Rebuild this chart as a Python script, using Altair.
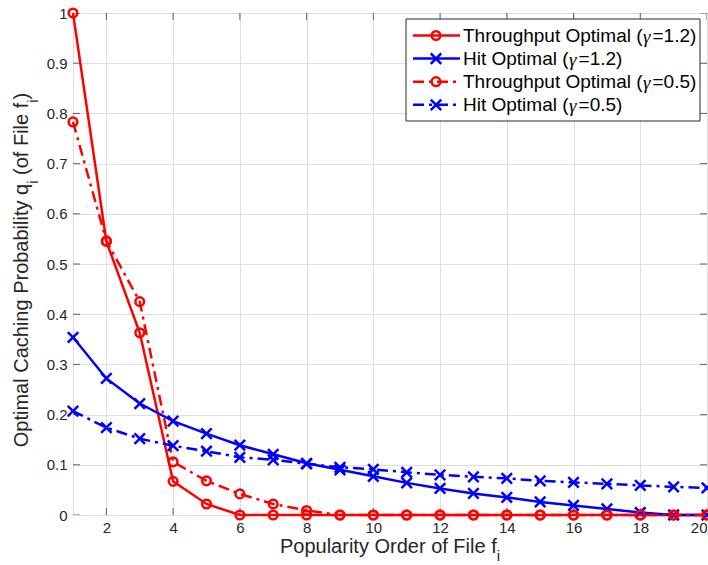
import altair as alt
import pandas as pd

# ---- data -------------------------------------------------------------
ranks = list(range(1, 21))
throughput_g12 = [1.000, 0.545, 0.363, 0.067, 0.022, 0, 0, 0, 0, 0,
                  0, 0, 0, 0, 0, 0, 0, 0, 0, 0]
hit_g12 = [0.354, 0.272, 0.222, 0.187, 0.162, 0.139, 0.121, 0.103, 0.090, 0.077,
           0.064, 0.053, 0.043, 0.035, 0.026, 0.019, 0.012, 0.005, 0, 0]
throughput_g05 = [0.783, 0.546, 0.425, 0.106, 0.068, 0.042, 0.022, 0.009, 0, 0,
                  0, 0, 0, 0, 0, 0, 0, 0, 0, 0]
hit_g05 = [0.207, 0.174, 0.152, 0.138, 0.127, 0.115, 0.110, 0.102, 0.095, 0.091,
           0.085, 0.080, 0.076, 0.073, 0.068, 0.065, 0.062, 0.059, 0.056, 0.054]

series_values = [throughput_g12, hit_g12, throughput_g05, hit_g05]
series_kind = ["Throughput Optimal", "Hit Optimal", "Throughput Optimal", "Hit Optimal"]
series_gamma = ["1.2", "1.2", "0.5", "0.5"]

x_ticks = [2, 4, 6, 8, 10, 12, 14, 16, 18, 20]
y_ticks = [0, 0.1, 0.2, 0.3, 0.4, 0.5, 0.6, 0.7, 0.8, 0.9, 1]

# ---- style --------------------------------------------------------------
W, H = 634, 502
FONT = "Liberation Sans"
INK = "#262626"
RED, BLUE = "#ff0000", "#0000ff"
DASHDOT = [11, 5, 3, 5]
X_PATH = "M-1,-1L1,1M1,-1L-1,1"

series_color = [RED, BLUE, RED, BLUE]
series_dash = [None, None, DASHDOT, DASHDOT]
series_shape = ["circle", X_PATH, "circle", X_PATH]
series_size = [75, 110, 75, 110]

# Arial/Liberation Sans advance widths (1/1000 em), for placing subscripts
ADV = {" ": 278, "P": 667, "o": 556, "p": 556, "u": 556, "l": 222, "a": 556,
       "r": 333, "i": 222, "t": 278, "y": 500, "O": 778, "d": 556, "e": 556,
       "f": 278, "F": 611, "m": 833, "C": 722, "c": 500, "h": 556, "n": 556,
       "g": 556, "b": 556, "q": 556, "(": 333, ")": 333, "T": 611, "H": 722,
       "=": 584, "1": 556, ".": 278, "2": 556, "5": 556, "0": 556}


def text_width(s, size):
    return sum(ADV.get(ch, 556) for ch in s) * size / 1000.0


one = pd.DataFrame({"k": [0]})

axis_style = dict(title=None, grid=True, ticks=False, domain=False,
                  labelFont=FONT, labelFontSize=15, labelColor=INK,
                  gridColor="#dfdfdf", gridWidth=1, gridOpacity=1)
X = alt.X("rank:Q", scale=alt.Scale(domain=[1, 20], nice=False, zero=False),
          axis=alt.Axis(values=x_ticks, labelPadding=5, **axis_style))
Y = alt.Y("value:Q", scale=alt.Scale(domain=[0, 1], nice=False),
          axis=alt.Axis(values=y_ticks, format="~g", labelPadding=6, **axis_style))

layers = []

# inward tick marks on all four sides of the box
xt = pd.DataFrame({"rank": x_ticks})
yt = pd.DataFrame({"value": y_ticks})
for ypix in (0, H):
    layers.append(alt.Chart(xt).mark_tick(orient="vertical", size=14, thickness=1,
                                          color=INK, clip=True)
                  .encode(x=X, y=alt.value(ypix)))
for xpix in (0, W):
    layers.append(alt.Chart(yt).mark_tick(orient="horizontal", size=14, thickness=1,
                                          color=INK, clip=True)
                  .encode(y=Y, x=alt.value(xpix)))

# curves with markers
for vals, color, dash, shape, size in zip(series_values, series_color, series_dash,
                                          series_shape, series_size):
    df = pd.DataFrame({"rank": ranks, "value": vals})
    line_kw = dict(color=color, strokeWidth=2.5)
    if dash:
        line_kw["strokeDash"] = dash
    layers.append(alt.Chart(df).mark_line(**line_kw).encode(x=X, y=Y))
    layers.append(alt.Chart(df).mark_point(shape=shape, filled=False, size=size,
                                           strokeWidth=2.5, color=color, opacity=1)
                  .encode(x=X, y=Y))

# legend box
LX0, LX1, LY0, LY1 = 333, 627, 6, 108
layers.append(alt.Chart(one).mark_rect(fill="white", stroke=INK, strokeWidth=1)
              .encode(x=alt.value(LX0), x2=alt.value(LX1),
                      y=alt.value(LY0), y2=alt.value(LY1)))

LEG_FS = 19
row_y = [22.5, 45.6, 68.7, 91.8]
for i in range(4):
    ry = row_y[i]
    rule_kw = dict(color=series_color[i], strokeWidth=2.5)
    if series_dash[i]:
        rule_kw["strokeDash"] = series_dash[i]
    layers.append(alt.Chart(one).mark_rule(**rule_kw)
                  .encode(x=alt.value(340), x2=alt.value(387), y=alt.value(ry)))
    layers.append(alt.Chart(one).mark_point(shape=series_shape[i], filled=False,
                                            size=series_size[i], strokeWidth=2.5,
                                            color=series_color[i], opacity=1)
                  .encode(x=alt.value(363), y=alt.value(ry)))
    prefix = series_kind[i] + " ("
    suffix = "=" + series_gamma[i] + ")"
    tx = 390
    layers.append(alt.Chart(pd.DataFrame({"t": [prefix]}))
                  .mark_text(font=FONT, fontSize=LEG_FS, color="black", align="left",
                             baseline="middle")
                  .encode(text="t:N", x=alt.value(tx), y=alt.value(ry)))
    gx = tx + text_width(prefix, LEG_FS)
    layers.append(alt.Chart(pd.DataFrame({"t": ["\u03b3"]}))
                  .mark_text(font="Liberation Serif", fontStyle="italic", fontSize=LEG_FS,
                             color="black", align="left", baseline="middle")
                  .encode(text="t:N", x=alt.value(gx + 0.5), y=alt.value(ry + 1)))
    layers.append(alt.Chart(pd.DataFrame({"t": [suffix]}))
                  .mark_text(font=FONT, fontSize=LEG_FS, color="black", align="left",
                             baseline="middle")
                  .encode(text="t:N", x=alt.value(gx + 10), y=alt.value(ry)))

# axis titles with subscripts; (text, font size, baseline drop, gap before)
TFS, SFS = 20, 15
GAP = text_width(" ", TFS)
x_parts = [("Popularity Order of File f", TFS, 0, 0), ("i", SFS, 8, 0)]
total = sum(text_width(s, fs) + g for s, fs, _, g in x_parts)
cx = W / 2 - total / 2
for s, fs, drop, g in x_parts:
    cx += g
    layers.append(alt.Chart(pd.DataFrame({"t": [s]}))
                  .mark_text(font=FONT, fontSize=fs, color=INK, align="left",
                             baseline="alphabetic")
                  .encode(text="t:N", x=alt.value(cx), y=alt.value(540 + drop)))
    cx += text_width(s, fs)

y_parts = [("Optimal Caching Probability q", TFS, 0, 0), ("i", SFS, 9.5, 0),
           ("(of File f", TFS, 0, GAP), ("i", SFS, 9.5, 0), (")", TFS, 0, 0)]
total = sum(text_width(s, fs) + g for s, fs, _, g in y_parts)
cy = 257 + total / 2
for s, fs, drop, g in y_parts:
    cy -= g
    layers.append(alt.Chart(pd.DataFrame({"t": [s]}))
                  .mark_text(font=FONT, fontSize=fs, color=INK, align="left",
                             baseline="alphabetic", angle=270)
                  .encode(text="t:N", x=alt.value(-45 + drop), y=alt.value(cy)))
    cy -= text_width(s, fs)

chart = alt.layer(*layers).properties(
    width=W, height=H,
    autosize=alt.AutoSizeParams(type="none"),
    padding={"left": 73, "top": 13, "right": 1, "bottom": 50},
).configure_view(stroke=INK, strokeWidth=1).configure(background="white")

chart.save("out.html", embed_options={"renderer": "svg", "actions": False})
